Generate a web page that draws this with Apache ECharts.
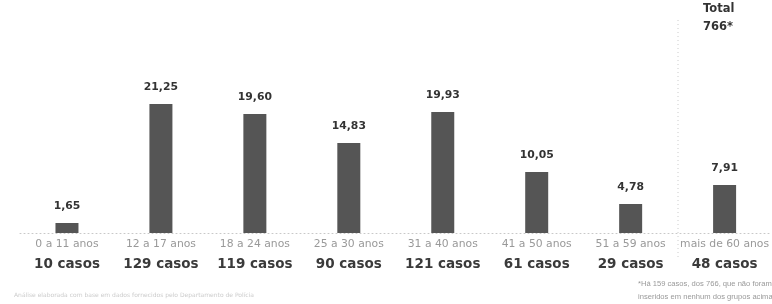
<!DOCTYPE html>
<html><head><meta charset="utf-8">
<script src="https://cdn.jsdelivr.net/npm/echarts@6/dist/echarts.min.js"></script>
<style>html,body{margin:0;padding:0;background:#fff}#c{width:772px;height:304px}</style>
</head><body><div id="c"></div>
<script>
const categories = ['0 a 11 anos','12 a 17 anos','18 a 24 anos','25 a 30 anos','31 a 40 anos','41 a 50 anos','51 a 59 anos','mais de 60 anos'];
const cases = [10,129,119,90,121,61,29,48];
const percents = [1.65,21.25,19.60,14.83,19.93,10.05,4.78,7.91];
const totalLabel = ['Total','766*'];
const footnote = ['*Há 159 casos, dos 766, que não foram','inseridos em nenhum dos grupos acima'];
const sourceNote = 'Análise elaborada com base em dados fornecidos pelo Departamento de Polícia';

const chart = echarts.init(document.getElementById('c'));
chart.setOption({
  animation:false,
  textStyle:{fontFamily:'DejaVu Sans'},
  grid:{left:20,right:-1,top:51,bottom:71},
  xAxis:{type:'category',data:categories,
    axisLine:{show:true,lineStyle:{color:'#c8c8c8',type:[1,3],width:1}},
    axisTick:{show:false},
    axisLabel:{interval:0,margin:3,
      formatter:(v,i)=>'{a|'+v+'}\n{b|'+cases[i]+' casos}',
      rich:{a:{fontSize:10.8,color:'#999',fontFamily:'DejaVu Sans',lineHeight:16},
            b:{fontSize:13.5,color:'#3a3a3a',fontWeight:'bold',fontFamily:'DejaVu Sans',lineHeight:25}}}},
  yAxis:{type:'value',min:0,max:30,show:false,splitLine:{show:false}},
  series:[{type:'bar',data:percents,barWidth:23,
    itemStyle:{color:'#555'},
    label:{show:true,position:'top',distance:11,color:'#333',fontWeight:'bold',fontSize:10.8,fontFamily:'DejaVu Sans',
      formatter:p=>p.value.toFixed(2).replace('.',',')}}],
  graphic:[
    {type:'line',shape:{x1:678,y1:20,x2:678,y2:258},style:{stroke:'#ccc',lineDash:[1,3],lineWidth:1},silent:true},
    {type:'text',left:703,top:0,style:{text:totalLabel[0]+'\n'+totalLabel[1],fill:'#333',font:'bold 11.5px "DejaVu Sans"',lineHeight:18}},
    {type:'text',left:638,top:277,style:{text:footnote[0]+'\n'+footnote[1],fill:'#999',font:'7.6px "Liberation Sans"',lineHeight:13}},
    {type:'text',left:14,top:292,style:{text:sourceNote,fill:'#ccc',font:'6px "DejaVu Sans"'}}
  ]
});
</script></body></html>
